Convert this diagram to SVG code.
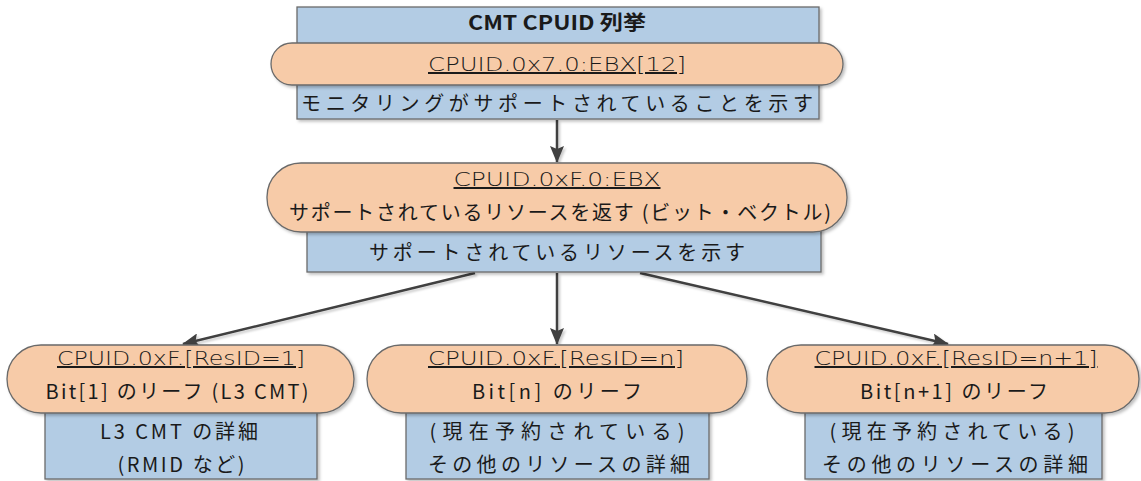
<svg xmlns="http://www.w3.org/2000/svg" width="1141" height="481" viewBox="0 0 1141 481">
<defs>
<filter id="sh" x="-10%" y="-10%" width="120%" height="130%">
<feDropShadow dx="2" dy="2" stdDeviation="1.5" flood-color="#000" flood-opacity="0.25"/>
</filter>
<filter id="shl" filterUnits="userSpaceOnUse" x="0" y="0" width="1141" height="481">
<feDropShadow dx="2" dy="2" stdDeviation="1.2" flood-color="#000" flood-opacity="0.2"/>
</filter>
<marker id="ah" markerWidth="17" markerHeight="14" refX="16" refY="7" orient="auto" markerUnits="userSpaceOnUse">
<path d="M0,0 L17,7 L0,14 L3,7 Z" fill="#404040"/>
</marker>
</defs>
<style>
.box{fill:#b3cce4;stroke:#6a6a6a;stroke-width:1.3;filter:url(#sh)}
.cap{fill:#f7cba8;stroke:#6a6a6a;stroke-width:1.3;filter:url(#sh)}
.jp{font-family:"Noto Sans CJK JP","Noto Sans",sans-serif;font-size:20px;fill:#1a1a1a;text-anchor:middle}
.b{font-weight:bold}
.cp{font-family:"DejaVu Sans","Liberation Sans",sans-serif;font-weight:200;font-size:20px;fill:#1a1a1a;text-anchor:middle;text-decoration:underline}
.ln{stroke:#404040;stroke-width:2.5;fill:none;marker-end:url(#ah)}
</style>
<g id="connectors" filter="url(#shl)">
<line class="ln" x1="557" y1="120" x2="557" y2="162"/>
<line class="ln" x1="475" y1="273" x2="183" y2="344"/>
<line class="ln" x1="557" y1="273" x2="557" y2="344"/>
<line class="ln" x1="640" y1="273" x2="948" y2="344"/>
</g>
<g id="node-top">
<rect class="box" x="297" y="7" width="522" height="112"/>
<text class="jp b" x="557" y="30" textLength="178" lengthAdjust="spacingAndGlyphs">CMT CPUID 列挙</text>
<rect class="cap" x="271" y="43" width="572" height="42" rx="21" ry="21"/>
<text class="cp" x="557" y="71" textLength="258" lengthAdjust="spacingAndGlyphs">CPUID.0x7.0:EBX[12]</text>
<text class="jp" x="557" y="111" textLength="512" lengthAdjust="spacing">モニタリングがサポートされていることを示す</text>
</g>
<g id="node-mid">
<rect class="box" x="307" y="225" width="514" height="47"/>
<rect class="cap" x="267" y="163" width="580" height="69" rx="34" ry="34"/>
<text class="cp" x="557" y="186" textLength="207" lengthAdjust="spacingAndGlyphs">CPUID.0xF.0:EBX</text>
<text class="jp" x="560" y="220" textLength="542" lengthAdjust="spacing">サポートされているリソースを返す (ビット・ベクトル)</text>
<text class="jp" x="557" y="260" textLength="376" lengthAdjust="spacing">サポートされているリソースを示す</text>
</g>
<g id="node-left">
<rect class="box" x="45" y="405" width="272" height="74"/>
<rect class="cap" x="7" y="345" width="347" height="68" rx="34" ry="34"/>
<text class="cp" x="181" y="365" textLength="248" lengthAdjust="spacingAndGlyphs">CPUID.0xF.[ResID=1]</text>
<text class="jp" x="177" y="399" textLength="263" lengthAdjust="spacing">Bit[1] のリーフ (L3 CMT)</text>
<text class="jp" x="179" y="439" textLength="158" lengthAdjust="spacing">L3 CMT の詳細</text>
<text class="jp" x="181" y="472" textLength="127" lengthAdjust="spacing">(RMID など)</text>
</g>
<g id="node-n">
<rect class="box" x="406" y="405" width="303" height="74"/>
<rect class="cap" x="367" y="345" width="380" height="68" rx="34" ry="34"/>
<text class="cp" x="556" y="365" textLength="256" lengthAdjust="spacingAndGlyphs">CPUID.0xF.[ResID=n]</text>
<text class="jp" x="557" y="399" textLength="170" lengthAdjust="spacing">Bit[n] のリーフ</text>
<text class="jp" x="557" y="439" textLength="255" lengthAdjust="spacing">(現在予約されている)</text>
<text class="jp" x="559" y="472" textLength="262" lengthAdjust="spacing">その他のリソースの詳細</text>
</g>
<g id="node-n1">
<rect class="box" x="805" y="405" width="297" height="74"/>
<rect class="cap" x="767" y="345" width="372" height="68" rx="34" ry="34"/>
<text class="cp" x="956" y="365" textLength="283" lengthAdjust="spacingAndGlyphs">CPUID.0xF.[ResID=n+1]</text>
<text class="jp" x="954" y="399" textLength="188" lengthAdjust="spacing">Bit[n+1] のリーフ</text>
<text class="jp" x="952" y="439" textLength="245" lengthAdjust="spacing">(現在予約されている)</text>
<text class="jp" x="955" y="472" textLength="266" lengthAdjust="spacing">その他のリソースの詳細</text>
</g>
</svg>
